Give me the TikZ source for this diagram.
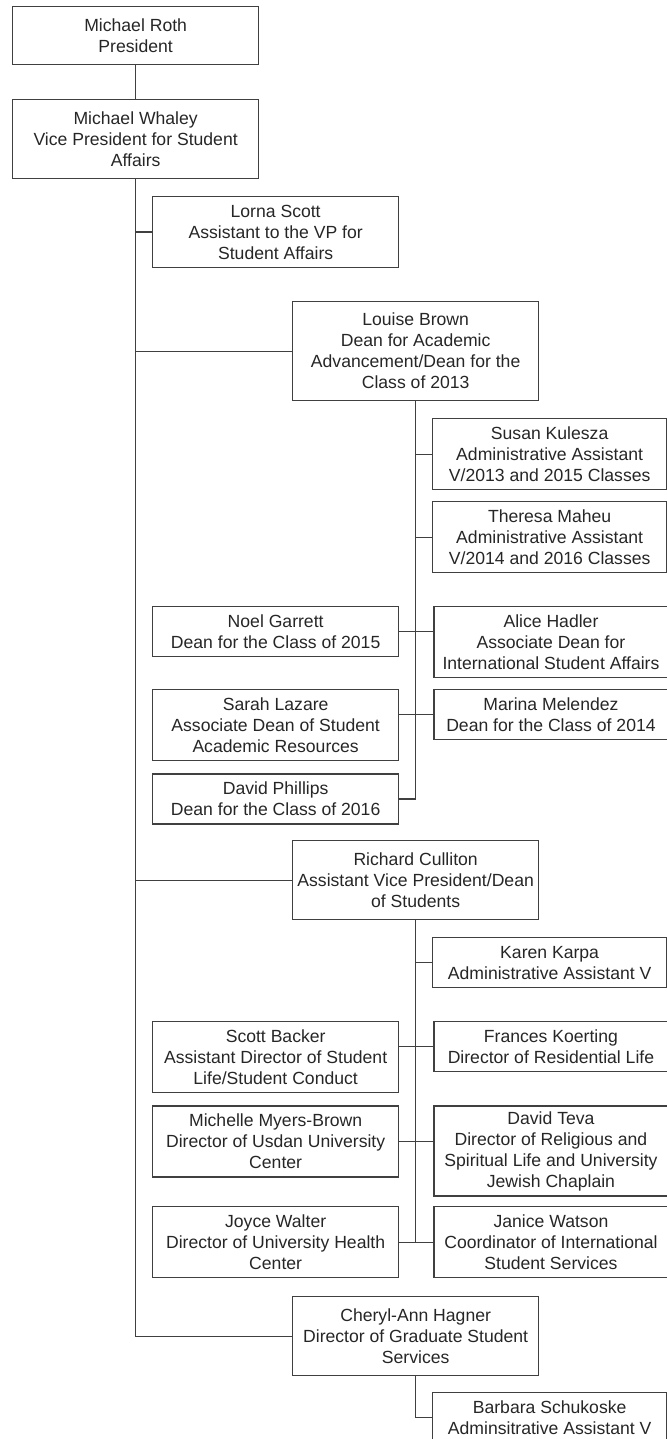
\documentclass[tikz,border=0pt]{standalone}
\usepackage{fontspec}
\setmainfont{Liberation Sans}
\usetikzlibrary{positioning}

\tikzset{
  orgbox/.style={draw=black!75, line width=0.65pt, text=black!85, align=center,
    minimum width=123pt, inner sep=0pt, anchor=north west,
    font=\fontsize{8.8pt}{10.5pt}\selectfont},
  narrowbox/.style={orgbox, minimum width=117pt},
  orgline/.style={draw=black!75, line width=0.65pt}
}

\begin{document}
\begin{tikzpicture}[x=0.5pt, y=-0.5pt]
    \useasboundingbox (0,0) rectangle (667,1439);

    \node[orgbox, minimum height=29pt] (roth) at (12,6) {Michael Roth\\President};
    \node[orgbox, minimum height=39.5pt] (whaley) at (12,99) {Michael Whaley\\Vice President for Student\\Affairs};
    \node[orgbox, minimum height=35.5pt] (scott) at (152,196) {Lorna Scott\\Assistant to the VP for\\Student Affairs};

    % academic advancement
    \node[orgbox, minimum height=49.5pt] (brown) at (292,301) {Louise Brown\\Dean for Academic\\Advancement/Dean for the\\Class of 2013};
    \node[narrowbox, minimum height=35.5pt] (kulesza) at (432,418) {Susan Kulesza\\Administrative Assistant\\V/2013 and 2015 Classes};
    \node[narrowbox, minimum height=35.5pt] (maheu) at (432,501) {Theresa Maheu\\Administrative Assistant\\V/2014 and 2016 Classes};
    \node[orgbox, minimum height=25pt] (garrett) at (152,606) {Noel Garrett\\Dean for the Class of 2015};
    \node[narrowbox, minimum height=35.5pt, right=17pt of garrett.north east, anchor=north west] (hadler) {Alice Hadler\\Associate Dean for\\International Student Affairs};
    \node[orgbox, minimum height=35.5pt] (lazare) at (152,689) {Sarah Lazare\\Associate Dean of Student\\Academic Resources};
    \node[narrowbox, minimum height=25pt, right=17pt of lazare.north east, anchor=north west] (melendez) {Marina Melendez\\Dean for the Class of 2014};
    \node[orgbox, minimum height=25pt, below=6pt of lazare] (phillips) {David Phillips\\Dean for the Class of 2016};

    % dean of students
    \node[orgbox, minimum height=39.5pt] (culliton) at (292,840) {Richard Culliton\\Assistant Vice President/Dean\\of Students};
    \node[narrowbox, minimum height=25pt] (karpa) at (432,937) {Karen Karpa\\Administrative Assistant V};
    \node[orgbox, minimum height=35.5pt] (backer) at (152,1021) {Scott Backer\\Assistant Director of Student\\Life/Student Conduct};
    \node[narrowbox, minimum height=25pt, right=17pt of backer.north east, anchor=north west] (koerting) {Frances Koerting\\Director of Residential Life};
    \node[orgbox, minimum height=35.5pt, below=6pt of backer] (myers) {Michelle Myers-Brown\\Director of Usdan University\\Center};
    \node[narrowbox, minimum height=45pt, right=17pt of myers.north east, anchor=north west] (teva) {David Teva\\Director of Religious and\\Spiritual Life and University\\Jewish Chaplain};
    \node[orgbox, minimum height=35.5pt] (walter) at (152,1206) {Joyce Walter\\Director of University Health\\Center};
    \node[narrowbox, minimum height=35.5pt, right=17pt of walter.north east, anchor=north west] (watson) {Janice Watson\\Coordinator of International\\Student Services};

    % graduate students
    \node[orgbox, minimum height=39.5pt] (hagner) at (292,1296) {Cheryl-Ann Hagner\\Director of Graduate Student\\Services};
    \node[narrowbox, minimum height=25pt] (schukoske) at (432,1392) {Barbara Schukoske\\Adminsitrative Assistant V};

    \draw[orgline] (roth) -- (whaley);
    \draw[orgline] (whaley.south) |- (hagner.west);
    \draw[orgline] (whaley.south |- scott.west) -- (scott.west);
    \draw[orgline] (whaley.south |- brown.west) -- (brown.west);
    \draw[orgline] (whaley.south |- culliton.west) -- (culliton.west);

    \draw[orgline] (brown.south) |- (phillips.east);
    \draw[orgline] (brown.south |- kulesza.west) -- (kulesza.west);
    \draw[orgline] (brown.south |- maheu.west) -- (maheu.west);
    \draw[orgline] (garrett.east) -- (garrett.east -| hadler.west);
    \draw[orgline] (lazare.east |- melendez.west) -- (melendez.west);

    \draw[orgline] (culliton.south) |- (watson.west);
    \draw[orgline] (walter.east) -- (culliton.south |- walter.east);
    \draw[orgline] (culliton.south |- karpa.west) -- (karpa.west);
    \draw[orgline] (backer.east |- koerting.west) -- (koerting.west);
    \draw[orgline] (myers.east) -- (myers.east -| teva.west);

    \draw[orgline] (hagner.south) |- (schukoske.west);
  \end{tikzpicture}
\end{document}
